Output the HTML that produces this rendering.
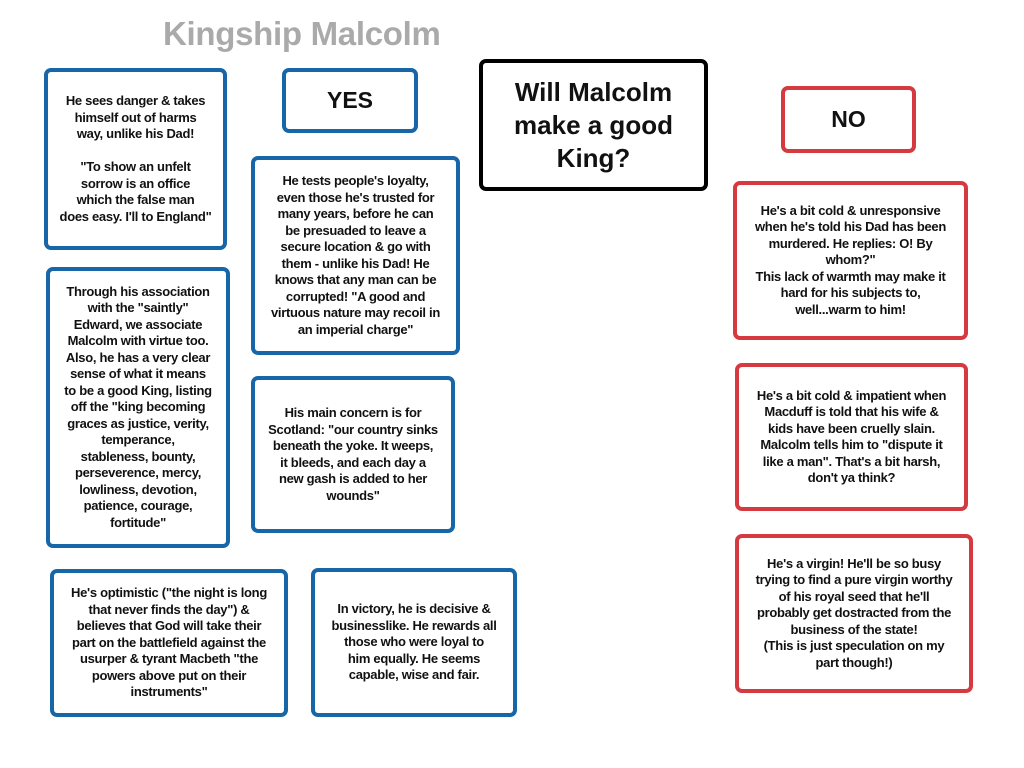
<!DOCTYPE html>
<html><head><meta charset="utf-8"><style>
body{margin:0;width:1024px;height:768px;background:#fff;position:relative;overflow:hidden;font-family:"Liberation Sans",sans-serif;}
.b{position:absolute;box-sizing:border-box;border:4px solid #1766a8;border-radius:7px;display:flex;align-items:center;justify-content:center;text-align:center;font-weight:bold;font-size:13px;line-height:16.5px;color:#111;letter-spacing:-0.3px;white-space:nowrap;}
.r{border-color:#d63a41;}
.k{border-color:#000;}
.t{position:absolute;left:163px;top:15px;font-size:33px;font-weight:bold;color:#aaa;letter-spacing:-0.3px;}
</style></head><body>
<div class="t">Kingship Malcolm</div>
<div class="b" style="left:44px;top:68px;width:183px;height:182px;">He sees danger &amp; takes<br>himself out of harms<br>way, unlike his Dad!<br><br>"To show an unfelt<br>sorrow is an office<br>which the false man<br>does easy. I'll to England"</div>
<div class="b" style="left:282px;top:68px;width:136px;height:65px;font-size:23px;letter-spacing:0;">YES</div>
<div class="b k" style="left:479px;top:59px;width:229px;height:132px;font-size:26px;line-height:33px;letter-spacing:0;">Will Malcolm<br>make a good<br>King?</div>
<div class="b r" style="left:781px;top:86px;width:135px;height:67px;font-size:23px;letter-spacing:0;">NO</div>
<div class="b" style="left:251px;top:156px;width:209px;height:199px;">He tests people's loyalty,<br>even those he's trusted for<br>many years, before he can<br>be presuaded to leave a<br>secure location &amp; go with<br>them - unlike his Dad! He<br>knows that any man can be<br>corrupted! "A good and<br>virtuous nature may recoil in<br>an imperial charge"</div>
<div class="b" style="left:46px;top:267px;width:184px;height:281px;">Through his association<br>with the "saintly"<br>Edward, we associate<br>Malcolm with virtue too.<br>Also, he has a very clear<br>sense of what it means<br>to be a good King, listing<br>off the "king becoming<br>graces as justice, verity,<br>temperance,<br>stableness, bounty,<br>perseverence, mercy,<br>lowliness, devotion,<br>patience, courage,<br>fortitude"</div>
<div class="b" style="left:251px;top:376px;width:204px;height:157px;">His main concern is for<br>Scotland: "our country sinks<br>beneath the yoke. It weeps,<br>it bleeds, and each day a<br>new gash is added to her<br>wounds"</div>
<div class="b" style="left:50px;top:569px;width:238px;height:148px;">He's optimistic ("the night is long<br>that never finds the day") &amp;<br>believes that God will take their<br>part on the battlefield against the<br>usurper &amp; tyrant Macbeth "the<br>powers above put on their<br>instruments"</div>
<div class="b" style="left:311px;top:568px;width:206px;height:149px;">In victory, he is decisive &amp;<br>businesslike. He rewards all<br>those who were loyal to<br>him equally. He seems<br>capable, wise and fair.</div>
<div class="b r" style="left:733px;top:181px;width:235px;height:159px;">He's a bit cold &amp; unresponsive<br>when he's told his Dad has been<br>murdered. He replies: O! By<br>whom?"<br>This lack of warmth may make it<br>hard for his subjects to,<br>well...warm to him!</div>
<div class="b r" style="left:735px;top:363px;width:233px;height:148px;">He's a bit cold &amp; impatient when<br>Macduff is told that his wife &amp;<br>kids have been cruelly slain.<br>Malcolm tells him to "dispute it<br>like a man". That's a bit harsh,<br>don't ya think?</div>
<div class="b r" style="left:735px;top:534px;width:238px;height:159px;">He's a virgin! He'll be so busy<br>trying to find a pure virgin worthy<br>of his royal seed that he'll<br>probably get dostracted from the<br>business of the state!<br>(This is just speculation on my<br>part though!)</div>
</body></html>
